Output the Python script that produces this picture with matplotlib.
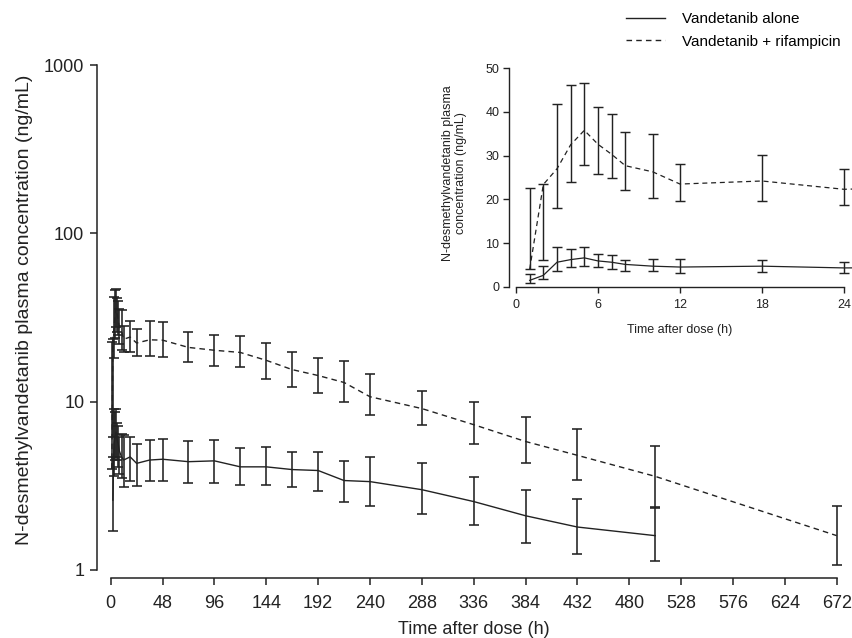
import numpy as np
import matplotlib
matplotlib.use("Agg")
import matplotlib.pyplot as plt
from matplotlib.ticker import FixedLocator, NullLocator, FuncFormatter

plt.rcParams['font.family'] = ['Liberation Sans', 'DejaVu Sans']

# vandetanib alone
time_alone = [1, 2, 3, 4, 5, 6, 7, 8, 10, 12, 18, 24, 36, 48, 72, 96, 120, 144,
              168, 192, 216, 240, 288, 336, 384, 432, 504]
mean_alone = [1.45, 2.6, 5.6, 6.2, 6.6, 5.9, 5.6, 5.1, 4.7, 4.5, 4.7, 4.3, 4.5, 4.55,
              4.4, 4.45, 4.1, 4.1, 3.95, 3.9, 3.4, 3.35, 3.0, 2.55, 2.1, 1.8, 1.6]
lo_alone = [0.84, 1.7, 3.6, 4.5, 4.7, 4.5, 4.1, 3.7, 3.5, 3.1, 3.4, 3.15, 3.4, 3.4,
            3.3, 3.3, 3.2, 3.2, 3.1, 2.95, 2.55, 2.4, 2.15, 1.85, 1.45, 1.25, 1.13]
hi_alone = [2.8, 4.7, 9.1, 8.7, 9.1, 7.5, 7.2, 6.2, 6.4, 6.3, 6.2, 5.6, 5.9, 6.0,
            5.8, 5.9, 5.3, 5.35, 5.05, 5.05, 4.45, 4.7, 4.3, 3.55, 3.0, 2.65, 2.37]

# vandetanib + rifampicin
time_rif = [1, 2, 3, 4, 5, 6, 7, 8, 10, 12, 18, 24, 36, 48, 72, 96, 120, 144,
            168, 192, 216, 240, 288, 336, 384, 432, 504, 672]
mean_rif = [4.0, 23.4, 27.0, 32.5, 35.8, 32.6, 30.3, 27.7, 26.3, 23.5, 24.2, 22.3,
            23.3, 23.2, 21.0, 20.2, 19.6, 17.6, 15.5, 14.3, 13.0, 10.7, 9.1, 7.3,
            5.8, 4.8, 3.6, 1.6]
lo_rif = [4.0, 6.2, 18.1, 24.0, 27.9, 25.9, 24.8, 22.1, 20.2, 19.7, 19.6, 18.8,
          18.7, 18.5, 17.1, 16.3, 16.1, 13.7, 12.2, 11.3, 9.9, 8.3, 7.3, 5.6, 4.3,
          3.44, 2.33, 1.07]
hi_rif = [22.6, 23.6, 41.9, 46.1, 46.7, 41.2, 39.6, 35.5, 35.0, 28.2, 30.2, 26.9,
          30.2, 29.6, 26.1, 25.0, 24.6, 22.3, 19.8, 18.2, 17.5, 14.6, 11.5, 10.0,
          8.1, 6.85, 5.44, 2.39]

main_xticks = list(range(0, 673, 48))
main_yticks = [1, 10, 100, 1000]
inset_xticks = [0, 6, 12, 18, 24]
inset_yticks = [0, 10, 20, 30, 40, 50]

ink = "#222222"
ylab = "N-desmethylvandetanib plasma concentration (ng/mL)"


def draw(ax, lw, cap, dash, first=0):
    # first: skip the earliest alone sample (not shown on the log panel)
    h = []
    for t, m, lo, hi, ls, k in [(time_alone, mean_alone, lo_alone, hi_alone, "-", first),
                                (time_rif, mean_rif, lo_rif, hi_rif, "--", 0)]:
        t = np.array(t)[k:]
        m = np.array(m)[k:]
        err = [m - np.array(lo)[k:], np.array(hi)[k:] - m]
        ax.errorbar(t, m, yerr=err, fmt="none", ecolor=ink, elinewidth=lw * 1.15,
                    capsize=cap, capthick=lw * 1.15, clip_on=False, zorder=2)
        line, = ax.plot(t, m, color=ink, lw=lw, ls=ls, clip_on=False, zorder=3)
        if ls == "--":
            line.set_dashes(dash)
        h.append(line)
    return h


fig = plt.figure(figsize=(8.53, 6.38), dpi=100)

# main log plot
ax = fig.add_axes([110.7 / 853, 68 / 638, 726 / 853, 505 / 638])
handles = draw(ax, 1.0, 3.6, (4, 3), first=1)
ax.set_yscale("log")
ax.set_xlim(0, 672)
ax.set_ylim(1, 1000)
ax.xaxis.set_major_locator(FixedLocator(main_xticks))
ax.yaxis.set_major_locator(FixedLocator(main_yticks))
ax.yaxis.set_minor_locator(NullLocator())
ax.yaxis.set_major_formatter(FuncFormatter(lambda v, p: "%d" % v))
for s in ["top", "right"]:
    ax.spines[s].set_visible(False)
ax.spines["left"].set_position(("outward", 10))
ax.spines["bottom"].set_position(("outward", 6))
ax.spines["left"].set_bounds(1, 1000)
ax.spines["bottom"].set_bounds(0, 672)
for s in ["left", "bottom"]:
    ax.spines[s].set_linewidth(1.1)
    ax.spines[s].set_color(ink)
ax.tick_params(length=5, width=1.1, color=ink, labelsize=13, labelcolor=ink, pad=4)
ax.tick_params(axis="x", pad=7)
ax.set_xlabel("Time after dose (h)", fontsize=13, color=ink)
ax.set_ylabel(ylab, fontsize=14, color=ink)
ax.xaxis.set_label_coords(0.5, -0.1)
ax.yaxis.set_label_coords(-0.107, 0.515)
ax.patch.set_alpha(0)

# inset linear plot
ins = fig.add_axes([516 / 853, (638 - 286.7) / 638, 328 / 853, 218.4 / 638])
draw(ins, 0.9, 3.4, (4, 3))
ins.set_xlim(0, 24)
ins.set_ylim(0, 50)
ins.xaxis.set_major_locator(FixedLocator(inset_xticks))
ins.yaxis.set_major_locator(FixedLocator(inset_yticks))
for s in ["top", "right"]:
    ins.spines[s].set_visible(False)
ins.spines["left"].set_position(("outward", 5))
for s in ["left", "bottom"]:
    ins.spines[s].set_linewidth(1.0)
    ins.spines[s].set_color(ink)
ins.tick_params(length=4, width=1.0, color=ink, labelsize=9, labelcolor=ink, pad=3)
ins.tick_params(axis="x", pad=5)
ins.set_xlabel("Time after dose (h)", fontsize=9, color=ink)
ins.set_ylabel("N-desmethylvandetanib plasma\nconcentration (ng/mL)", fontsize=9,
               color=ink, linespacing=1.1)
ins.xaxis.set_label_coords(0.5, -0.17)
ins.yaxis.set_label_coords(-0.15, 0.52)
ins.patch.set_alpha(0)

fig.legend(handles, ["Vandetanib alone", "Vandetanib + rifampicin"],
           loc="upper right", bbox_to_anchor=(1.0, 1.0), frameon=False,
           fontsize=11, handlelength=2.6, handletextpad=1.1, labelspacing=0.55,
           borderaxespad=0.4)

fig.savefig("out.png", dpi=100)
